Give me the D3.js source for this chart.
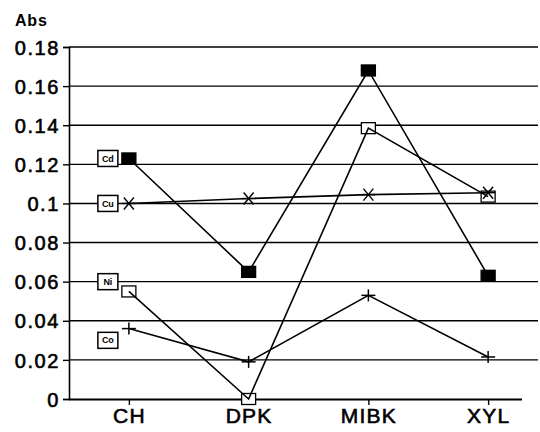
<!DOCTYPE html>
<html><head><meta charset="utf-8">
<script src="https://cdn.jsdelivr.net/npm/d3@7"></script>
<style>body{margin:0;background:#fff}svg{display:block}</style>
</head><body>
<svg id="c" width="540" height="432"></svg>
<script>
const categories = ["CH", "DPK", "MIBK", "XYL"];
const yTicks = [0, 0.02, 0.04, 0.06, 0.08, 0.1, 0.12, 0.14, 0.16, 0.18];
const yTickLabels = ["0", "0.02", "0.04", "0.06", "0.08", "0.1", "0.12", "0.14", "0.16", "0.18"];
const seriesNames = ["Cd", "Cu", "Ni", "Co"];
const cdValues = [0.123, 0.065, 0.168, 0.063];
const cuValues = [0.100, 0.1025, 0.1045, 0.1055];
const niValues = [0.055, 0.000, 0.1385, 0.1035];
const coValues = [0.036, 0.019, 0.053, 0.0215];
const labelAnchors = [0.123, 0.100, 0.060, 0.030];
const markerTypes = ["filled", "asterisk", "open", "plus"];

(function () {
const series = [cdValues, cuValues, niValues, coValues].map((v, i) => ({
  name: seriesNames[i], values: v, marker: markerTypes[i], anchor: labelAnchors[i]
}));

const svg = d3.select("#c");
const font = "Liberation Sans, Arial, sans-serif";
const pl = 69, pr = 538, pt = 47, pb = 399;
const x = d3.scalePoint().domain(categories).range([pl, 548]).padding(0.5);
const y = d3.scaleLinear().domain([0, 0.18]).range([pb, pt]);

// gridlines
svg.append("g").selectAll("line").data(yTicks.filter(d => d > 0)).join("line")
  .attr("x1", pl).attr("x2", pr)
  .attr("y1", d => y(d)).attr("y2", d => y(d))
  .attr("stroke", "#000").attr("stroke-width", 1.4);

// y axis
const yAxis = d3.axisLeft(y).tickValues(yTicks).tickSize(6)
  .tickFormat((d, i) => yTickLabels[i]);
const ya = svg.append("g").attr("transform", `translate(${pl},0)`).call(yAxis);
ya.select(".domain").attr("stroke", "#000").attr("stroke-width", 1.6);
ya.selectAll(".tick line").attr("stroke", "#000").attr("stroke-width", 1.4);
ya.selectAll(".tick text").attr("x", -9).attr("dy", "0.36em")
  .attr("font-family", font).attr("stroke", "#000").attr("stroke-width", 0.6)
  .attr("font-size", 20).attr("letter-spacing", 1.6).attr("fill", "#000");

// x axis
const xAxis = d3.axisBottom(x).tickSize(6).tickSizeOuter(0);
const xa = svg.append("g").attr("transform", `translate(0,${pb})`).call(xAxis);
xa.select(".domain").attr("d", `M${pl},0.5H${522}`).attr("stroke", "#000").attr("stroke-width", 1.8);
xa.selectAll(".tick line").attr("stroke", "#000").attr("stroke-width", 1.4);
xa.selectAll(".tick text").attr("y", 9).attr("dy", "0.71em")
  .attr("font-family", font).attr("stroke", "#000").attr("stroke-width", 0.6)
  .attr("font-size", 21).attr("letter-spacing", 1.2).attr("fill", "#000");

// y title
svg.append("text").attr("x", 15).attr("y", 26).text("Abs")
  .attr("font-family", font)
  .attr("font-size", 16).attr("font-weight", "bold").attr("letter-spacing", 0.8);

// open squares first (lines pass over them)
const mg0 = svg.append("g");
// lines
const line = d3.line().x((d, i) => x(categories[i])).y(d => y(d));
svg.append("g").selectAll("path").data(series).join("path")
  .attr("d", s => line(s.values)).attr("fill", "none")
  .attr("stroke", "#000").attr("stroke-width", 1.6);

// markers
const mg = svg.append("g");
series.forEach(s => {
  s.values.forEach((v, i) => {
    const cx = x(categories[i]), cy = y(v);
    if (s.marker === "open") {
      mg0.append("rect").attr("x", cx - 7).attr("y", cy - 5.5).attr("width", 14).attr("height", 11)
        .attr("fill", "#fff").attr("stroke", "#000").attr("stroke-width", 1.3);
    } else if (s.marker === "filled") {
      mg.append("rect").attr("x", cx - 7).attr("y", cy - 5.5).attr("width", 14).attr("height", 11)
        .attr("fill", "#000").attr("stroke", "#000").attr("stroke-width", 1.3);
    } else if (s.marker === "asterisk") {
      const g = mg.append("g").attr("stroke", "#000").attr("stroke-width", 1.4);
      g.append("line").attr("x1", cx - 7).attr("x2", cx + 7).attr("y1", cy).attr("y2", cy);
      g.append("line").attr("x1", cx - 5).attr("x2", cx + 5).attr("y1", cy - 6).attr("y2", cy + 6);
      g.append("line").attr("x1", cx - 5).attr("x2", cx + 5).attr("y1", cy + 6).attr("y2", cy - 6);
    } else {
      const g = mg.append("g").attr("stroke", "#000").attr("stroke-width", 1.5);
      g.append("line").attr("x1", cx - 7).attr("x2", cx + 7).attr("y1", cy).attr("y2", cy);
      g.append("line").attr("x1", cx).attr("x2", cx).attr("y1", cy - 6).attr("y2", cy + 6);
    }
  });
});

// series labels
const lg = svg.append("g");
series.forEach(s => {
  const cx = x(categories[0]) - 21, cy = y(s.anchor);
  lg.append("rect").attr("x", cx - 10).attr("y", cy - 8).attr("width", 20).attr("height", 16)
    .attr("fill", "#fff").attr("stroke", "#000").attr("stroke-width", 1.5);
  lg.append("text").attr("x", cx).attr("y", cy).attr("dy", "0.35em").attr("text-anchor", "middle")
    .attr("font-family", font).attr("fill", "#000")
    .attr("font-size", 9).attr("font-weight", "bold").text(s.name);
});
})();
</script>
</body></html>
